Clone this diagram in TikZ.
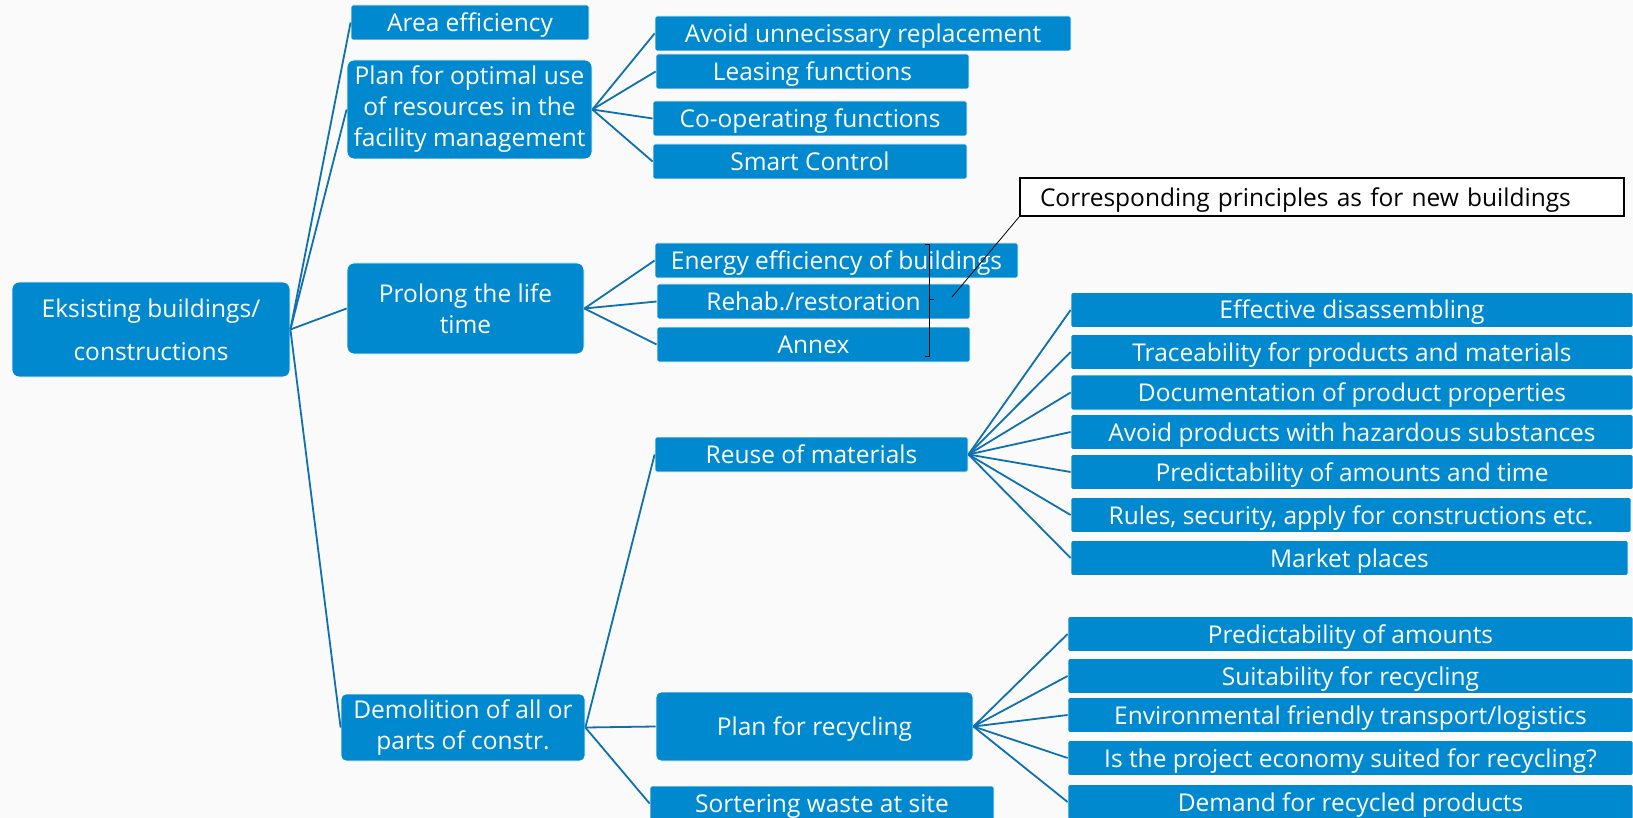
\documentclass[tikz,border=0pt]{standalone}
\usepackage{fontspec}
\setmainfont{Open Sans}
\definecolor{boxblue}{RGB}{0,137,207}
\definecolor{lineblue}{RGB}{14,112,174}
\definecolor{bggray}{RGB}{250,250,250}
\tikzset{
  box/.style={fill=boxblue, draw=white, line width=0.8pt, text=white, inner sep=0pt,
    align=center, rounded corners=7pt, font=\fontsize{24.5}{31}\selectfont},
  leaf/.style={box, rounded corners=1.5pt, minimum height=35pt, text height=20pt, text depth=2pt},
  link/.style={lineblue, line width=1.8pt},
}
\begin{document}
\begin{tikzpicture}[x=1pt,y=-1pt]
    % Canvas
    \useasboundingbox (0,0) rectangle (1633,818);
    \fill[bggray] (0,0) rectangle (1633,818);
    \clip (0,0) rectangle (1633,818);

    % Root and main branches
    \node[box, minimum width=278pt, minimum height=95pt, font=\fontsize{24.5}{43}\selectfont]
      (root) at (151,329.5) {Eksisting buildings/\\constructions};
    \node[leaf, minimum width=238pt] (area) at (470,22.5) {Area efficiency};
    \node[box, minimum width=245pt, minimum height=99pt] (plan) at (469.5,109.5)
      {Plan for optimal use\\of resources in the\\facility management};
    \node[box, minimum width=237pt, minimum height=91pt] (prolong) at (465.5,308.5)
      {Prolong the life\\time};
    \node[box, rounded corners=5pt, minimum width=244pt, minimum height=67pt]
      (demol) at (463,727.5) {Demolition of all or\\parts of constr.};

    % Facility management
    \node[leaf, minimum width=416pt] (avoid) at (863,33.5) {Avoid unnecissary replacement};
    \node[leaf, minimum width=313pt] (leasing) at (812.5,71.5) {Leasing functions};
    \node[leaf, minimum width=314pt] (coop) at (810,118.5) {Co-operating functions};
    \node[leaf, minimum width=314pt] (smart) at (810,161.5) {Smart Control};

    % Life time
    \node[leaf, minimum width=363pt] (energy) at (836.5,260.5) {Energy efficiency of buildings};
    \node[leaf, minimum width=313pt] (rehab) at (813.5,301.5) {Rehab./restoration};
    \node[leaf, minimum width=313pt] (annex) at (813.5,344.5) {Annex};

    % Note with bracket
    \node[draw=black, fill=white, line width=1.2pt, inner xsep=20pt, inner ysep=0pt,
      text width=564pt, align=left, minimum height=38pt, text height=21pt, text depth=2pt,
      font=\fontsize{24.5}{31}\selectfont]
      (note) at (1322,197) {Corresponding principles as for new buildings};
    \draw[line width=1pt] (925,245) -- (929,245) -- (929,356) -- (925,356);
    \draw[line width=1pt] (929,300) -- (934,300);
    \coordinate (tip) at (952,297);
    \draw[line width=0.8pt] (tip) -- (note.south west);

    % Demolition
    \node[leaf, minimum width=313pt] (reuse) at (811.5,454.5) {Reuse of materials};
    \node[leaf, rounded corners=5pt, minimum width=317pt, minimum height=69pt] (recyc) at (814.5,726.5)
      {Plan for recycling};
    \node[leaf, minimum width=344pt] (sort) at (822,803.5) {Sortering waste at site};

    % Reuse of materials
    \node[leaf, minimum width=562pt] (disas) at (1352,310) {Effective disassembling};
    \node[leaf, minimum width=562pt] (trace) at (1352,352) {Traceability for products and materials};
    \node[leaf, minimum width=562pt] (docu) at (1352,392.5) {Documentation of product properties};
    \node[leaf, minimum width=562pt] (hazard) at (1352,432) {Avoid products with hazardous substances};
    \node[leaf, minimum width=562pt] (predtime) at (1352,472) {Predictability of amounts and time};
    \node[leaf, minimum width=560pt] (rules) at (1351,515) {Rules, security, apply for constructions etc.};
    \node[leaf, minimum width=557pt] (market) at (1349.5,558) {Market places};

    % Plan for recycling
    \node[leaf, minimum width=565pt] (predamt) at (1350.5,634) {Predictability of amounts};
    \node[leaf, minimum width=565pt] (suit) at (1350.5,676) {Suitability for recycling};
    \node[leaf, minimum width=565pt] (envir) at (1350.5,715) {Environmental friendly transport/logistics};
    \node[leaf, minimum width=565pt] (econ) at (1350.5,758) {Is the project economy suited for recycling?};
    \node[leaf, minimum width=565pt] (demand) at (1350.5,802) {Demand for recycled products};

    % Connectors
    \foreach \c in {area,plan,prolong,demol} \draw[link] (root.east) -- (\c.west);
    \foreach \c in {avoid,leasing,coop,smart} \draw[link] (plan.east) -- (\c.west);
    \foreach \c in {energy,rehab,annex} \draw[link] (prolong.east) -- (\c.west);
    \foreach \c in {reuse,recyc,sort} \draw[link] (demol.east) -- (\c.west);
    \foreach \c in {disas,trace,docu,hazard,predtime,rules,market} \draw[link] (reuse.east) -- (\c.west);
    \foreach \c in {predamt,suit,envir,econ,demand} \draw[link] (recyc.east) -- (\c.west);
\end{tikzpicture}
\end{document}
